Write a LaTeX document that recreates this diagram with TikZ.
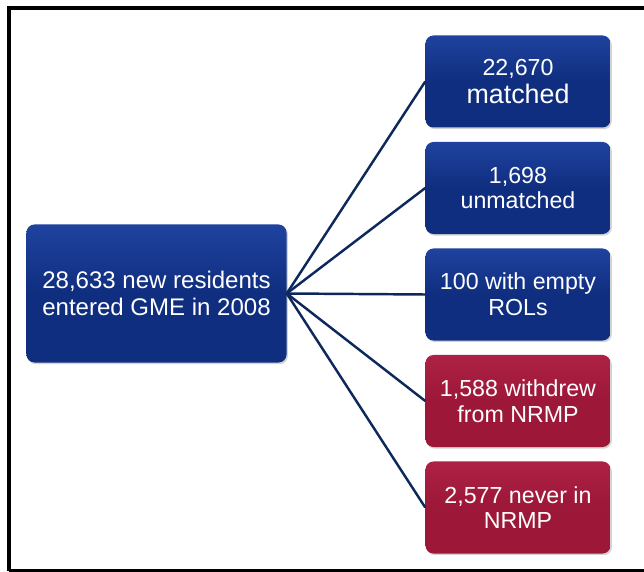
\documentclass[tikz,border=0pt]{standalone}
\usepackage{fontspec}
\setmainfont{Liberation Sans}
\usepackage{xcolor}
\usetikzlibrary{
	positioning,
	shadows
}
\definecolor{nblue}{rgb}{0.06, 0.18, 0.50}
\definecolor{lblue}{rgb}{0.12, 0.26, 0.62}
\definecolor{nred}{rgb}{0.61, 0.09, 0.22}
\definecolor{lred}{rgb}{0.68, 0.13, 0.27}
\definecolor{navy}{rgb}{0.05, 0.16, 0.36}
\tikzset{
	box/.style={rounded corners=0.24cm, text=white, align=center, inner sep=0pt,
		drop shadow={shadow xshift=0.04cm, shadow yshift=-0.05cm, opacity=0.35}},
	bluebox/.style={box, top color=lblue, bottom color=nblue, middle color=nblue},
	redbox/.style={box, top color=lred, bottom color=nred, middle color=nred},
	outbox/.style={minimum width=5.55cm, minimum height=2.76cm,
		font=\fontsize{19.8}{22}\selectfont},
	branch/.style={navy, line width=2.1pt}
}

\begin{document}
\begin{tikzpicture}[x=0.03cm, y=-0.03cm]

	% Page and frame
		\useasboundingbox (0,0) rectangle (644,572);
		\draw[line width=3.4pt] (9,571) -- (9,8) -- (700,8);
		\draw[line width=3.4pt] (9,571) -- (700,571);

	% Boxes
		% Source
			\node[bluebox, minimum width=7.8cm, minimum height=4.14cm,
				font=\fontsize{20.5}{23.5}\selectfont] (total) at (156.5,293.5)
				{28,633 new residents\\entered GME in 2008};
		% Outcomes
			\node[bluebox, outbox] (matched) at (518,81.5)
				{22,670\\[2pt]{\fontsize{22.9}{26}\selectfont matched}};
			\node[bluebox, outbox] (unmatched) at (518,188) {1,698\\unmatched};
			\node[bluebox, outbox] (emptyrol) at (518,294.5) {100 with empty\\ROLs};
			\node[redbox, outbox] (withdrew) at (518,401) {1,588 withdrew\\from NRMP};
			\node[redbox, outbox] (never) at (518,507.5) {2,577 never in\\NRMP};

	% Connectors
		\foreach \n in {matched,unmatched,emptyrol,withdrew,never} {
			\draw[branch] (total.east) -- (\n.west);
		}
\end{tikzpicture}
\end{document}
